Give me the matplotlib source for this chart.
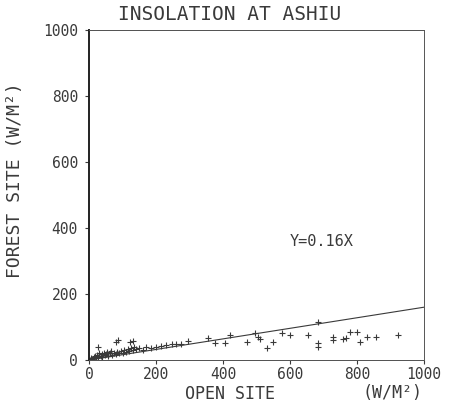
import numpy as np
import matplotlib

matplotlib.use('Agg')
import matplotlib.pyplot as plt

# regression slope shown on the chart
slope = 0.16

# open site vs forest site insolation (W/m2)
open_site = [3, 5, 10, 15, 18, 22, 25, 27, 28, 30, 35, 38, 40, 45, 48, 52, 55, 58,
             62, 65, 70, 75, 80, 80, 85, 87, 90, 95, 100, 105, 110, 115, 120, 122,
             125, 130, 131, 135, 140, 150, 160, 170, 185, 200, 215, 230,
             247, 260, 275, 295, 355, 376, 406, 421, 471, 496, 505, 510, 531,
             549, 576, 600, 654, 684, 684, 684, 728, 728, 758, 767, 779, 800,
             809, 830, 857, 922]
forest_site = [0, 5, 3, 8, 12, 6, 15, 40, 10, 20, 12, 18, 8, 22, 15, 18, 25, 12,
               20, 28, 15, 22, 18, 55, 25, 62, 20, 28, 22, 30, 25, 32, 28, 55,
               35, 30, 58, 38, 32, 35, 30, 38, 35, 40, 42, 45,
               50, 50, 48, 58, 67, 52, 52, 76, 55, 82, 70, 64, 36,
               55, 82, 76, 76, 52, 115, 40, 61, 70, 64, 67, 85, 85,
               55, 70, 70, 76]

x_ticks = [0, 200, 400, 600, 800, 1000]
y_ticks = [0, 200, 400, 600, 800, 1000]

ink = '#3a3a3a'
mono = 'DejaVu Sans Mono'

fig = plt.figure(figsize=(4.66, 4.04), dpi=100)
ax = fig.add_axes([89 / 466, 44 / 404, 335 / 466, 330 / 404])

fit_x = np.array([0, 1000])
ax.plot(fit_x, slope * fit_x, color=ink, lw=0.8)
ax.plot(open_site, forest_site, ls='none', marker='+', ms=5, mew=0.8, color=ink)

ax.set_xlim(0, 1000)
ax.set_ylim(0, 1000)
ax.set_xticks(x_ticks)
ax.set_yticks(y_ticks)
ax.tick_params(direction='out', length=3, width=0.8, colors=ink,
               labelsize=10.5)
ax.tick_params(axis='x', pad=2)
ax.tick_params(axis='y', pad=5)
for lbl in ax.get_xticklabels() + ax.get_yticklabels():
    lbl.set_family(mono)

ax.spines['left'].set_linewidth(1.4)
ax.spines['left'].set_color('#222222')
for side in ['top', 'bottom', 'right']:
    ax.spines[side].set_linewidth(0.7)
    ax.spines[side].set_color('#555555')
ax.spines['top'].set_linestyle((0, (1, 0.5)))
ax.spines['bottom'].set_linestyle((0, (1, 0.5)))

ax.text(695, 360, 'Y=0.16X', family=mono, fontsize=11, color=ink,
        ha='center', va='center')

fig.text(230 / 466, 1 - 14 / 404, 'INSOLATION AT ASHIU', family=mono,
         fontsize=14, color=ink, ha='center', va='center')
fig.text(15 / 466, 1 - 180 / 404, 'FOREST SITE (W/M²)', family=mono,
         fontsize=13, color=ink, ha='center', va='center', rotation=90)
fig.text(230 / 466, 1 - 394 / 404, 'OPEN SITE', family=mono,
         fontsize=12, color=ink, ha='center', va='center')
fig.text(393 / 466, 1 - 393 / 404, '(W/M²)', family=mono,
         fontsize=12, color=ink, ha='center', va='center')

fig.savefig('out.png', dpi=100)
